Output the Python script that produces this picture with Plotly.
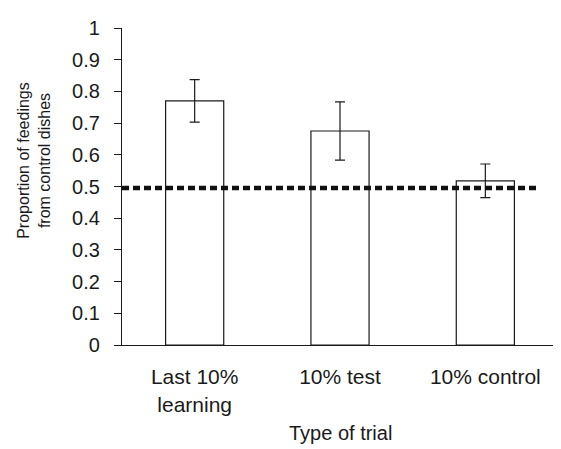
import plotly.graph_objects as go

categories = ["Last 10%<br>learning", "10% test", "10% control"]
means = [0.77, 0.675, 0.518]
errors = [0.067, 0.092, 0.053]
n_labels = ["<i>N</i> = 7", "<i>N</i> = 5", "<i>N</i> = 5"]
chance_level = 0.495
y_ticks = [0, 0.1, 0.2, 0.3, 0.4, 0.5, 0.6, 0.7, 0.8, 0.9, 1]

FONT = "Liberation Sans, Arial, sans-serif"
INK = "#1a1a1a"

x_idx = list(range(len(categories)))

fig = go.Figure()
fig.add_trace(go.Bar(
    x=x_idx, y=means, width=0.4,
    marker=dict(color="white", line=dict(color=INK, width=1.2)),
    error_y=dict(type="data", array=errors, visible=True, color=INK,
                 thickness=1.2, width=5),
    showlegend=False, hoverinfo="skip",
))

fig.add_shape(type="line", xref="x", yref="y",
              x0=-0.5, x1=2.36, y0=chance_level, y1=chance_level,
              line=dict(color="#111111", width=4.5, dash="7px,4px"),
              layer="above")

for i, lab in enumerate(n_labels):
    fig.add_annotation(x=i, y=1.03, xref="x", yref="y", text=lab,
                       showarrow=False, yanchor="middle",
                       font=dict(family=FONT, size=19, color=INK))

fig.add_annotation(x=-0.202, y=0.584, xref="paper", yref="paper",
                   text="Proportion of feedings<br>from control dishes",
                   textangle=-90, showarrow=False,
                   xanchor="center", yanchor="middle",
                   font=dict(family=FONT, size=16, color=INK))

fig.add_annotation(x=0.5, y=-0.278, xref="paper", yref="paper",
                   text="Type of trial", showarrow=False,
                   xanchor="center", yanchor="middle",
                   font=dict(family=FONT, size=20, color=INK))

fig.update_xaxes(
    range=[-0.5, 2.5], tickmode="array", tickvals=x_idx, ticktext=categories,
    showline=True, linecolor=INK, linewidth=1.2, ticks="",
    showgrid=False, zeroline=False, ticklabelstandoff=13,
    tickfont=dict(family=FONT, size=21, color=INK),
)
fig.update_yaxes(
    range=[0, 1], tickmode="array", tickvals=y_ticks,
    ticktext=[("%g" % v) for v in y_ticks],
    showline=True, linecolor=INK, linewidth=1.2,
    ticks="outside", ticklen=7, tickcolor=INK, tickwidth=1.2,
    showgrid=False, zeroline=False, ticklabelstandoff=10,
    tickfont=dict(family=FONT, size=20, color=INK),
)

fig.update_layout(
    width=553, height=441,
    margin=dict(l=114, r=3, t=20, b=104),
    plot_bgcolor="white", paper_bgcolor="white",
    bargap=0.6,
)

fig.write_html("out.html")
